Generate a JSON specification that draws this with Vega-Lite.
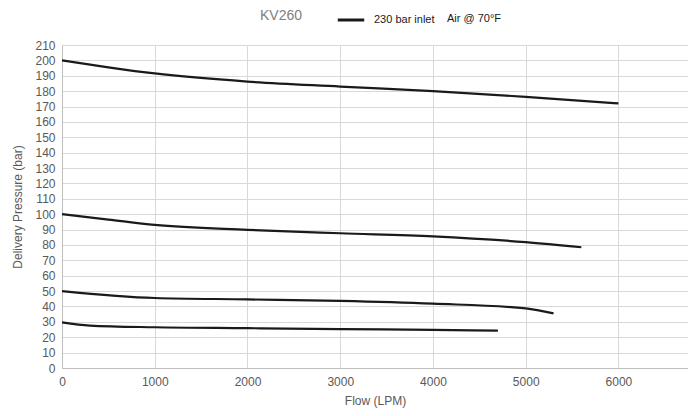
{
  "$schema": "https://vega.github.io/schema/vega-lite/v6.json",
  "width": 626,
  "height": 323,
  "autosize": {"type": "none"},
  "padding": {"left": 62, "top": 45, "right": 0, "bottom": 48},
  "background": "white",
  "title": {"text": "Air @ 70°F", "anchor": "start", "frame": "group", "dx": 385, "dy": 19, "offset": 0, "fontSize": 11, "fontWeight": "normal", "font": "Liberation Sans", "color": "#1a1a1a"},
  "config": {
    "view": {"stroke": null},
    "font": "Liberation Sans",
    "axis": {"labelFont": "Liberation Sans", "titleFont": "Liberation Sans", "labelColor": "#595959", "titleColor": "#595959", "labelFontSize": 12, "titleFontSize": 12, "titleFontWeight": "normal", "gridColor": "#d9d9d9", "gridWidth": 1, "domainColor": "#bfbfbf", "ticks": false}
  },
  "data": {"values": [
    {"curve": "a", "series": "230 bar inlet", "flow": 0, "pressure": 200},
    {"curve": "a", "series": "230 bar inlet", "flow": 500, "pressure": 195.5},
    {"curve": "a", "series": "230 bar inlet", "flow": 1000, "pressure": 191.5},
    {"curve": "a", "series": "230 bar inlet", "flow": 2000, "pressure": 186.2},
    {"curve": "a", "series": "230 bar inlet", "flow": 3000, "pressure": 183},
    {"curve": "a", "series": "230 bar inlet", "flow": 4000, "pressure": 180},
    {"curve": "a", "series": "230 bar inlet", "flow": 5000, "pressure": 176.3},
    {"curve": "a", "series": "230 bar inlet", "flow": 6000, "pressure": 172},
    {"curve": "b", "series": "230 bar inlet", "flow": 0, "pressure": 100},
    {"curve": "b", "series": "230 bar inlet", "flow": 500, "pressure": 96.5},
    {"curve": "b", "series": "230 bar inlet", "flow": 1000, "pressure": 93},
    {"curve": "b", "series": "230 bar inlet", "flow": 2000, "pressure": 89.8},
    {"curve": "b", "series": "230 bar inlet", "flow": 3000, "pressure": 87.6},
    {"curve": "b", "series": "230 bar inlet", "flow": 4000, "pressure": 85.6},
    {"curve": "b", "series": "230 bar inlet", "flow": 5000, "pressure": 81.8},
    {"curve": "b", "series": "230 bar inlet", "flow": 5600, "pressure": 78.5},
    {"curve": "c", "series": "230 bar inlet", "flow": 0, "pressure": 50},
    {"curve": "c", "series": "230 bar inlet", "flow": 1000, "pressure": 45.5},
    {"curve": "c", "series": "230 bar inlet", "flow": 2000, "pressure": 44.6},
    {"curve": "c", "series": "230 bar inlet", "flow": 3000, "pressure": 43.6},
    {"curve": "c", "series": "230 bar inlet", "flow": 4000, "pressure": 41.8},
    {"curve": "c", "series": "230 bar inlet", "flow": 5000, "pressure": 38.8},
    {"curve": "c", "series": "230 bar inlet", "flow": 5300, "pressure": 35.5},
    {"curve": "d", "series": "230 bar inlet", "flow": 0, "pressure": 29.7},
    {"curve": "d", "series": "230 bar inlet", "flow": 300, "pressure": 27.6},
    {"curve": "d", "series": "230 bar inlet", "flow": 1000, "pressure": 26.5},
    {"curve": "d", "series": "230 bar inlet", "flow": 2000, "pressure": 25.9},
    {"curve": "d", "series": "230 bar inlet", "flow": 3000, "pressure": 25.3},
    {"curve": "d", "series": "230 bar inlet", "flow": 4000, "pressure": 24.8},
    {"curve": "d", "series": "230 bar inlet", "flow": 4700, "pressure": 24.3}
  ]},
  "mark": {"type": "line", "interpolate": "monotone", "strokeWidth": 2.2, "clip": false},
  "encoding": {
    "x": {"field": "flow", "type": "quantitative", "title": "Flow (LPM)",
      "scale": {"domain": [0, 6750], "nice": false},
      "axis": {"values": [0, 1000, 2000, 3000, 4000, 5000, 6000], "format": "d", "labelPadding": 8, "titlePadding": 8, "labelFlush": false}},
    "y": {"field": "pressure", "type": "quantitative", "title": "Delivery Pressure (bar)",
      "scale": {"domain": [0, 210], "nice": false},
      "axis": {"values": [0,10,20,30,40,50,60,70,80,90,100,110,120,130,140,150,160,170,180,190,200,210], "labelPadding": 7, "titlePadding": 10, "labelFlush": false}},
    "detail": {"field": "curve"},
    "color": {"field": "series", "type": "nominal", "scale": {"range": ["#1a1a1a"]},
      "legend": {"orient": "none", "legendX": 198, "legendY": -40, "direction": "horizontal",
        "title": "KV260", "titleOrient": "left", "titleFontSize": 14, "titleFontWeight": "normal", "titleColor": "#7f7f7f", "titlePadding": 33, "titleFont": "Liberation Sans",
        "symbolType": "stroke", "symbolSize": 700, "symbolStrokeWidth": 3, "labelFontSize": 11, "labelColor": "#1a1a1a", "labelOffset": 8, "labelFont": "Liberation Sans"}}
  }
}
